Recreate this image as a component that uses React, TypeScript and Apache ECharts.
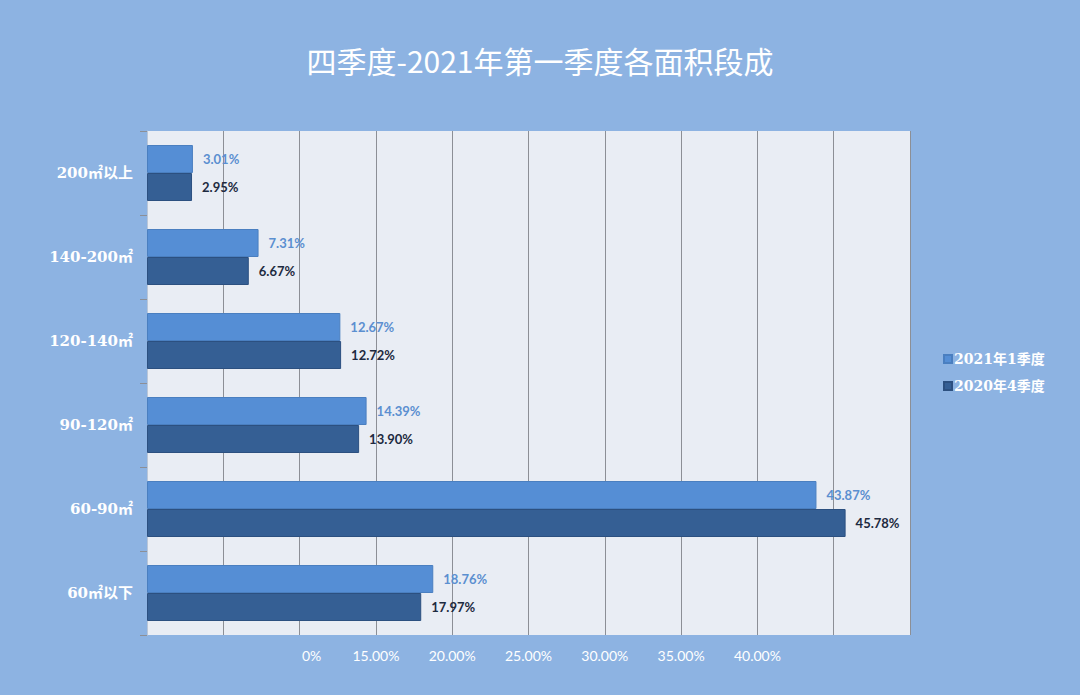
import React, { useEffect, useRef } from "react";
import * as echarts from "echarts";

const categories = ["60㎡以下", "60-90㎡", "90-120㎡", "120-140㎡", "140-200㎡", "200㎡以上"];
const series2021Q1 = [18.76, 43.87, 14.39, 12.67, 7.31, 3.01];
const series2020Q4 = [17.97, 45.78, 13.9, 12.72, 6.67, 2.95];
const seriesNames = ["2021年1季度", "2020年4季度"];
const xTickLabels = ["", "", "0%", "15.00%", "20.00%", "25.00%", "30.00%", "35.00%", "40.00%", "", ""];
const titleText = "四季度-2021年第一季度各面积段成";

export default function App() {
  const ref = useRef<HTMLDivElement>(null);
  useEffect(() => {
    if (!ref.current) return;
    const chart = echarts.init(ref.current, null, { renderer: "svg" });
    const labelFont = { fontFamily: "Lato, 'Noto Sans', sans-serif", fontSize: 13, fontWeight: "bold" as const };
    const serifBold = "'DejaVu Serif', 'Noto Sans CJK SC', serif";
    chart.setOption({
      animation: false,
      backgroundColor: "#8db3e2",
      title: {
        text: titleText,
        left: "center",
        top: 40,
        textStyle: {
          color: "#ffffff",
          fontSize: 30,
          fontWeight: "normal",
          fontFamily: "'Noto Sans CJK SC', sans-serif",
        },
      },
      legend: {
        orient: "vertical",
        left: 938,
        top: 347,
        itemWidth: 8,
        itemHeight: 8,
        itemGap: 13,
        icon: "rect",
        data: seriesNames,
        textStyle: {
          color: "#ffffff",
          fontSize: 14,
          fontWeight: "bold",
          fontFamily: serifBold,
          padding: [0, 0, 0, -3],
        },
      },
      grid: { left: 147, right: 170, top: 131, bottom: 60, show: true, backgroundColor: "#e9edf4", borderWidth: 0 },
      xAxis: {
        type: "value",
        min: 0,
        max: 50,
        interval: 5,
        axisLine: { show: false },
        axisTick: { show: false },
        splitLine: { show: true, lineStyle: { color: "#8c8f96", width: 1 } },
        axisLabel: {
          margin: 13,
          color: "#ffffff",
          fontFamily: "Lato, 'Noto Sans', sans-serif",
          fontSize: 14,
          formatter: (v: number) => {
            const s = xTickLabels[Math.round(v / 5)] || "";
            if (s === "0%") return "{shift|0%}";
            return s;
          },
          rich: {
            shift: {
              color: "#ffffff",
              fontFamily: "Lato, 'Noto Sans', sans-serif",
              fontSize: 14,
              padding: [0, 0, 0, 24],
            },
          },
        },
      },
      yAxis: {
        type: "category",
        data: categories,
        axisLine: { show: true, lineStyle: { color: "#b9c6d8", width: 1 } },
        axisTick: { show: true, length: 7, lineStyle: { color: "#8c8f96" } },
        axisLabel: {
          margin: 14,
          color: "#ffffff",
          fontSize: 15,
          fontWeight: "bold",
          fontFamily: serifBold,
        },
      },
      series: [
        {
          name: seriesNames[0],
          type: "bar",
          data: series2021Q1,
          barWidth: 28,
          barGap: "0%",
          itemStyle: { color: "#558ed5", borderColor: "#4a7fc0", borderWidth: 1 },
          label: {
            show: true,
            position: "right",
            distance: 10,
            color: "#5b8fd0",
            ...labelFont,
            formatter: (p: any) => p.value.toFixed(2) + "%",
          },
        },
        {
          name: seriesNames[1],
          type: "bar",
          data: series2020Q4,
          barWidth: 28,
          barGap: "0%",
          itemStyle: { color: "#355f94", borderColor: "#2c5080", borderWidth: 1 },
          label: {
            show: true,
            position: "right",
            distance: 10,
            color: "#1d2a40",
            ...labelFont,
            formatter: (p: any) => p.value.toFixed(2) + "%",
          },
        },
      ],
    });
    return () => chart.dispose();
  }, []);
  return (
    <div
      ref={ref}
      style={{ position: "absolute", left: 0, top: 0, width: 1080, height: 695, boxSizing: "border-box" }}
    />
  );
}
